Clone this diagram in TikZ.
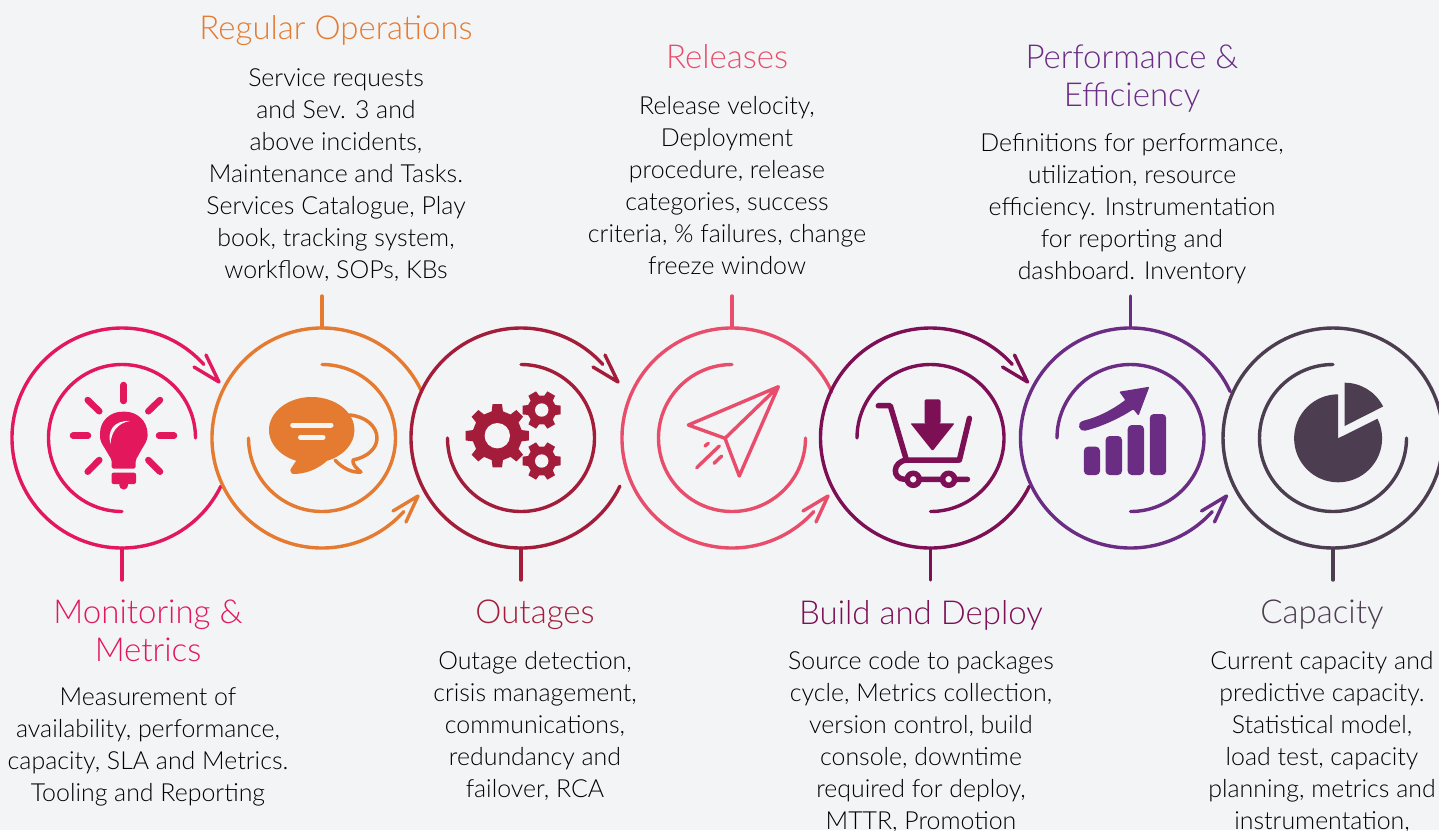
\documentclass[tikz,border=0pt]{standalone}
\usepackage{fontspec}
\setmainfont{Lato}[UprightFont=* Light]
\definecolor{paperBg}{HTML}{F2F4F6}
\definecolor{colMonitor}{HTML}{E3175B}
\definecolor{colRegular}{HTML}{E57A31}
\definecolor{colOutage}{HTML}{A31D3A}
\definecolor{colRelease}{HTML}{E84E6C}
\definecolor{colBuild}{HTML}{7D0F55}
\definecolor{colPerform}{HTML}{6B2C83}
\definecolor{colCapacity}{HTML}{4D3D50}

\begin{document}
\begin{tikzpicture}
[x=1pt,y=1pt,
  ringDecorate/.style={shape=circle,minimum size=220pt,inner sep=0pt},%
  lineDecorate/.style={-,line width=3.4pt,line cap=round,line join=round},%
  headDecorate/.style={text=#1,font=\fontsize{33}{37.5}\selectfont,align=center,inner sep=0pt},%
  bodyDecorate/.style={text=black,font=\fontsize{24.9}{32}\selectfont,align=center,inner sep=0pt,anchor=north}]
\useasboundingbox (0,0) rectangle (1439,-830);
\fill[paperBg] (0,0) rectangle (1439,-830);
%% rings
\foreach \ringname/\x/\ringcolor/\outerstart/\outerend/\innerstart/\innerend in {%
  ringa/122/colMonitor/-26/-318/0/270,
  ringb/322/colRegular/25/318/90/-180,
  ringc/521/colOutage/-26/-318/90/-180,
  ringd/732/colRelease/25/318/90/360,
  ringe/930.5/colBuild/-26/-318/180/-90,
  ringf/1130.5/colPerform/25/318/180/-90,
  ringg/1333/colCapacity/0/360/90/360} {
  \node (\ringname) at (\x,-438) [ringDecorate] {};
  \draw[lineDecorate,\ringcolor] (\ringname.center) ++(\outerstart:110pt)
    arc[start angle=\outerstart,end angle=\outerend,radius=110pt];
  \draw[lineDecorate,\ringcolor] (\ringname.center) ++(\innerstart:73.5pt)
    arc[start angle=\innerstart,end angle=\innerend,radius=73.5pt];
}
%% arrow heads
\foreach \ringname/\ringcolor in {ringa/colMonitor, ringc/colOutage, ringe/colBuild} {
  \draw[lineDecorate,\ringcolor,shift={(\ringname.center)}] (84,83) -- (97,56) -- (72,71);
}
\foreach \ringname/\ringcolor in {ringb/colRegular, ringd/colRelease, ringf/colPerform} {
  \draw[lineDecorate,\ringcolor,shift={(\ringname.center)}] (71,-73) -- (96,-58) -- (84,-84);
}
%% ticks
\foreach \ringname/\side/\x/\y/\ringcolor in {%
  ringa/south/122/-580/colMonitor,
  ringb/north/322/-296/colRegular,
  ringc/south/521/-580/colOutage,
  ringd/north/732/-296/colRelease,
  ringe/south/930.5/-580/colBuild,
  ringf/north/1130.5/-296/colPerform,
  ringg/south/1333/-580/colCapacity} {
  \coordinate (\ringname tick) at (\x,\y);
  \draw[lineDecorate,\ringcolor] (\ringname.\side) -- (\ringname tick);
}
%% headings
\foreach \headname/\x/\y/\headcolor/\headtext in {%
  headMonitor/148/-631/colMonitor/{Monitoring \&\\Metrics},
  headRegular/336/-31/colRegular/{Regular Operations},
  headOutage/535/-615/colOutage/{Outages},
  headRelease/727/-57/colRelease/{Releases},
  headBuild/921/-615/colBuild/{Build and Deploy},
  headPerform/1132/-78.5/colPerform/{Performance \&\\Efficiency},
  headCapacity/1322/-615/colCapacity/{Capacity}} {
  \node (\headname) at (\x,\y) [headDecorate=\headcolor] {\headtext};
}
%% body text
\foreach \bodyname/\x/\y/\bodytext in {%
  bodyMonitor/148/-687/{Measurement of\\availability, performance,\\capacity, SLA and Metrics.\\Tooling and Reporting},
  bodyRegular/336/-68/{Service requests\\and Sev. 3 and\\above incidents,\\Maintenance and Tasks.\\Services Catalogue, Play\\book, tracking system,\\workflow, SOPs, KBs},
  bodyOutage/535/-651/{Outage detection,\\crisis management,\\communications,\\redundancy and\\failover, RCA},
  bodyRelease/727/-96/{Release velocity,\\Deployment\\procedure, release\\categories, success\\criteria, \% failures, change\\freeze window},
  bodyBuild/921/-651/{Source code to packages\\cycle, Metrics collection,\\version control, build\\console, downtime\\required for deploy,\\MTTR, Promotion},
  bodyPerform/1132/-133/{Definitions for performance,\\utilization, resource\\efficiency. Instrumentation\\for reporting and\\dashboard. Inventory},
  bodyCapacity/1322/-651/{Current capacity and\\predictive capacity.\\Statistical model,\\load test, capacity\\planning, metrics and\\instrumentation,}} {
  \node (\bodyname) at (\x,\y) [bodyDecorate] {\bodytext};
}
%% bulb
\foreach \xa/\ya/\xb/\yb in {123.7/-385/123.7/-401, 73/-435.7/88/-435.7, 159/-435.7/174/-435.7,
  87.7/-400/99.3/-411.3, 160/-400/148.3/-411.3, 87.7/-471.7/99.3/-460, 160/-471.7/148.3/-460} {
  \draw[colMonitor,line width=6.5pt,line cap=round] (\xa,\ya) -- (\xb,\yb);
}
\fill[colMonitor,rounded corners=1.5pt] (111.7,-468.5) -- (111.7,-460) -- (104,-447)
  .. controls (100,-441) and (100,-437) .. (100,-435)
  .. controls (100,-421) and (110,-411.7) .. (123.7,-411.7)
  .. controls (137,-411.7) and (147.5,-421) .. (147.5,-435)
  .. controls (147.5,-437) and (147,-441) .. (143,-447)
  -- (135.7,-460) -- (135.7,-468.5) -- cycle;
\fill[colMonitor,rounded corners=2pt] (111.5,-472.7) rectangle (136,-484);
\fill[colMonitor] (123.7,-485) circle (4.5pt);
\fill[paperBg] (110.5,-444) .. controls (107,-432) and (113,-420) .. (130,-421)
  .. controls (117,-423) and (111,-433) .. (110.5,-444) -- cycle;
%% speech bubble
\fill[colRegular] (311.7,-430) ellipse [x radius=42.7pt,y radius=33pt];
\fill[colRegular,rounded corners=1pt] (298,-458) -- (290,-470) -- (292,-474)
  .. controls (305,-474) and (316,-470) .. (327,-461) -- cycle;
\draw[colRegular,line width=3.5pt,line cap=round,line join=round] (349,-415)
  .. controls (365,-416) and (377,-426) .. (377,-438)
  .. controls (377,-448) and (368,-457) .. (353,-460)
  .. controls (352,-464) and (357,-469) .. (361,-472)
  .. controls (352,-473) and (342,-468) .. (335,-460);
\draw[paperBg,line width=5pt,line cap=round] (292.7,-425) -- (331,-425);
\draw[paperBg,line width=5pt,line cap=round] (300.5,-437.3) -- (323,-437.3);
%% gears
\foreach \x/\y/\teeth/\rootr/\tipr/\holer/\halfroot/\halftip in {%
  497.3/-435.7/8/25/32/12.7/13/8.5,
  541.7/-410/6/14.5/19.5/6.7/20/13,
  541.7/-461/6/14.5/19.5/6.7/20/13} {
  \fill[colOutage,shift={(\x,\y)}] (-\halfroot:\rootr)
    \foreach \toothno in {1,...,\teeth} {
      -- ({360/\teeth*(\toothno-1)-\halfroot}:\rootr)
      -- ({360/\teeth*(\toothno-1)-\halftip}:\tipr)
      -- ({360/\teeth*(\toothno-1)+\halftip}:\tipr)
      -- ({360/\teeth*(\toothno-1)+\halfroot}:\rootr)
    } -- cycle;
  \fill[paperBg] (\x,\y) circle (\holer pt);
}
%% paper plane
\draw[lineDecorate,colRelease] (778.3,-386.7) -- (688.3,-425) -- (725,-438.3)
  -- (739.3,-476) -- cycle (725,-438.3) -- (778.3,-386.7);
\draw[lineDecorate,colRelease] (696.7,-467.7) -- (719.3,-446);
\draw[lineDecorate,colRelease] (705,-446) -- (708.3,-443.3);
\draw[lineDecorate,colRelease] (714,-463.3) -- (721.7,-456);
%% cart
\draw[colBuild,line width=5.5pt,line cap=round,line join=round] (878.3,-405.7) -- (890.3,-405.7)
  -- (906.4,-460) -- (959.4,-460) -- (969.4,-418.3);
\draw[colBuild,line width=5.5pt,line cap=round] (906.4,-460)
  .. controls (892,-462) and (892,-479) .. (904.4,-479.3) -- (967.4,-479.3);
\fill[colBuild,rounded corners=2pt] (924.5,-424) -- (924.5,-399.3) -- (940.5,-399.3) -- (940.5,-424) -- cycle;
\fill[colBuild,rounded corners=1pt] (910.4,-423.3) -- (954.6,-423.3) -- (932.5,-451) -- cycle;
\foreach \x in {913.2,948.6} {
  \draw[colBuild,line width=5.5pt,fill=paperBg] (\x,-479.3) circle (6pt);
}
%% bars and rising arrow
\foreach \xa/\xb/\y in {1083.9/1100/-446.7, 1105.6/1122/-436, 1127.7/1144/-425, 1149.8/1166.2/-414} {
  \fill[colPerform,rounded corners=4pt] (\xa,-475) rectangle (\xb,\y);
}
\fill[colPerform,rounded corners=1pt] (1149.4,-386.7) -- (1119.2,-391.7) -- (1125.3,-400)
  .. controls (1112,-410) and (1098,-417) .. (1084,-420.5)
  .. controls (1076,-423) and (1079,-432) .. (1086,-430.5)
  .. controls (1103,-426) and (1120,-418) .. (1133.3,-409.3)
  -- (1138.5,-415.7) -- cycle;
%% pie
\fill[colCapacity] (1338.1,-438.3) -- (1338.1,-394.3)
  arc[start angle=90,end angle=386.5,radius=44pt] -- cycle;
\fill[colCapacity] (1344.6,-426) -- (1344.6,-382.7)
  arc[start angle=90,end angle=26.5,radius=43pt] -- cycle;
\end{tikzpicture}
\end{document}
